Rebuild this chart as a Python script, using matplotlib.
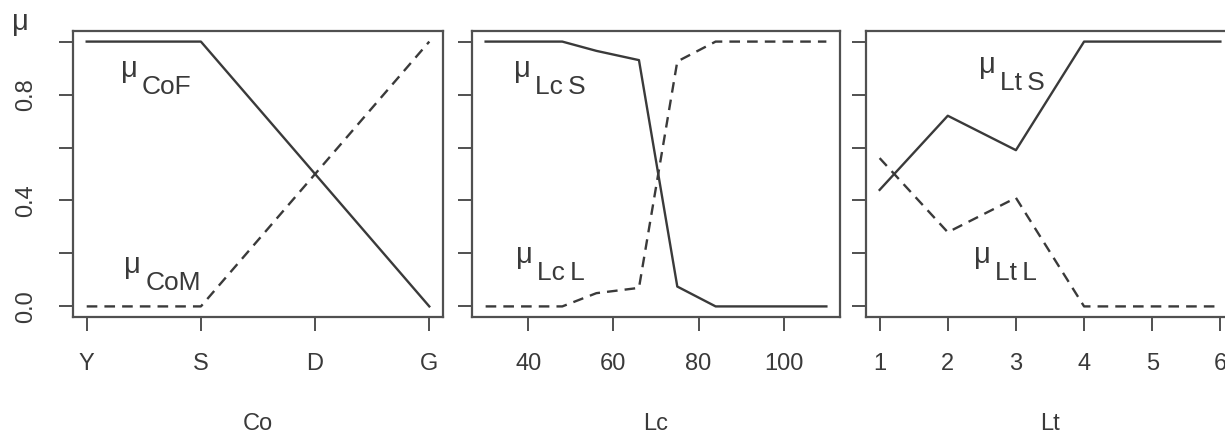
import matplotlib
matplotlib.use("Agg")
import matplotlib.pyplot as plt
import matplotlib.transforms as mtransforms

plt.rcParams["font.family"] = ["Liberation Sans", "DejaVu Sans"]

# membership values for the three inputs
co_x = [1, 2, 3, 4]
co_labels = ["Y", "S", "D", "G"]
co_F = [1.0, 1.0, 0.5, 0.0]
co_M = [0.0, 0.0, 0.5, 1.0]

lc_x = [30, 48, 56, 66, 75, 84, 110]
lc_S = [1.0, 1.0, 0.965, 0.93, 0.075, 0.0, 0.0]
lc_L = [0.0, 0.0, 0.05, 0.07, 0.925, 1.0, 1.0]

lt_x = [1, 2, 3, 4, 5, 6]
lt_S = [0.44, 0.72, 0.59, 1.0, 1.0, 1.0]
lt_L = [0.56, 0.28, 0.41, 0.0, 0.0, 0.0]

INK = "#3a3a3a"
FRAME = "#505050"

fig = plt.figure(figsize=(12.25, 4.36), dpi=100)
fig.patch.set_facecolor("white")

positions = [
    [73 / 1225, 1 - 317 / 436, 370 / 1225, 286 / 436],
    [472 / 1225, 1 - 317 / 436, 368 / 1225, 286 / 436],
    [866 / 1225, 1 - 317 / 436, 368 / 1225, 286 / 436],
]
axes = [fig.add_axes(p) for p in positions]


def mu_label(ax, x, y, sub):
    ax.text(x, y, "\u03bc", fontsize=21, color=INK, ha="left", va="baseline")
    off = mtransforms.offset_copy(ax.transData, fig=fig, x=15, y=-12, units="points")
    ax.text(x, y, sub, transform=off, fontsize=19, color=INK, ha="left", va="baseline")


def style(ax, xlabel):
    for s in ax.spines.values():
        s.set_color(FRAME)
        s.set_linewidth(1.6)
    ax.set_ylim(-0.04, 1.04)
    ax.set_yticks([0, 0.2, 0.4, 0.6, 0.8, 1.0])
    ax.tick_params(direction="out", length=10, width=1.4, color=FRAME,
                   labelsize=17, labelcolor=INK)
    ax.tick_params(axis="x", pad=16)
    ax.tick_params(axis="y", pad=16, labelrotation=90)
    ax.set_xlabel(xlabel, fontsize=17, color=INK, labelpad=27)


# Co panel
ax = axes[0]
ax.plot(co_x, co_F, color=INK, lw=1.7)
ax.plot(co_x, co_M, color=INK, lw=1.7, ls=(0, (4.5, 3)))
ax.set_xlim(0.88, 4.12)
ax.set_xticks(co_x)
ax.set_xticklabels(co_labels)
style(ax, "Co")
ax.set_yticklabels(["0.0", "", "0.4", "", "0.8", ""])
for t in ax.get_yticklabels():
    t.set_va("center")
mu_label(ax, 1.30, 0.866, "CoF")
mu_label(ax, 1.33, 0.125, "CoM")

# Lc panel
ax = axes[1]
ax.plot(lc_x, lc_S, color=INK, lw=1.7)
ax.plot(lc_x, lc_L, color=INK, lw=1.7, ls=(0, (4.5, 3)))
ax.set_xlim(26.8, 113.2)
ax.set_xticks([40, 60, 80, 100])
style(ax, "Lc")
ax.set_yticklabels([])
mu_label(ax, 36.7, 0.866, "Lc\u2009S")
mu_label(ax, 37.2, 0.163, "Lc\u2009L")

# Lt panel
ax = axes[2]
ax.plot(lt_x, lt_S, color=INK, lw=1.7)
ax.plot(lt_x, lt_L, color=INK, lw=1.7, ls=(0, (4.5, 3)))
ax.set_xlim(0.8, 6.2)
ax.set_xticks(lt_x)
style(ax, "Lt")
ax.set_yticklabels([])
mu_label(ax, 2.46, 0.88, "Lt\u2009S")
mu_label(ax, 2.38, 0.163, "Lt\u2009L")

fig.text(20 / 1225, 1 - 22 / 436, "\u03bc", fontsize=21, color=INK,
         ha="center", va="center")

fig.savefig("out.png", dpi=100, facecolor="white")
